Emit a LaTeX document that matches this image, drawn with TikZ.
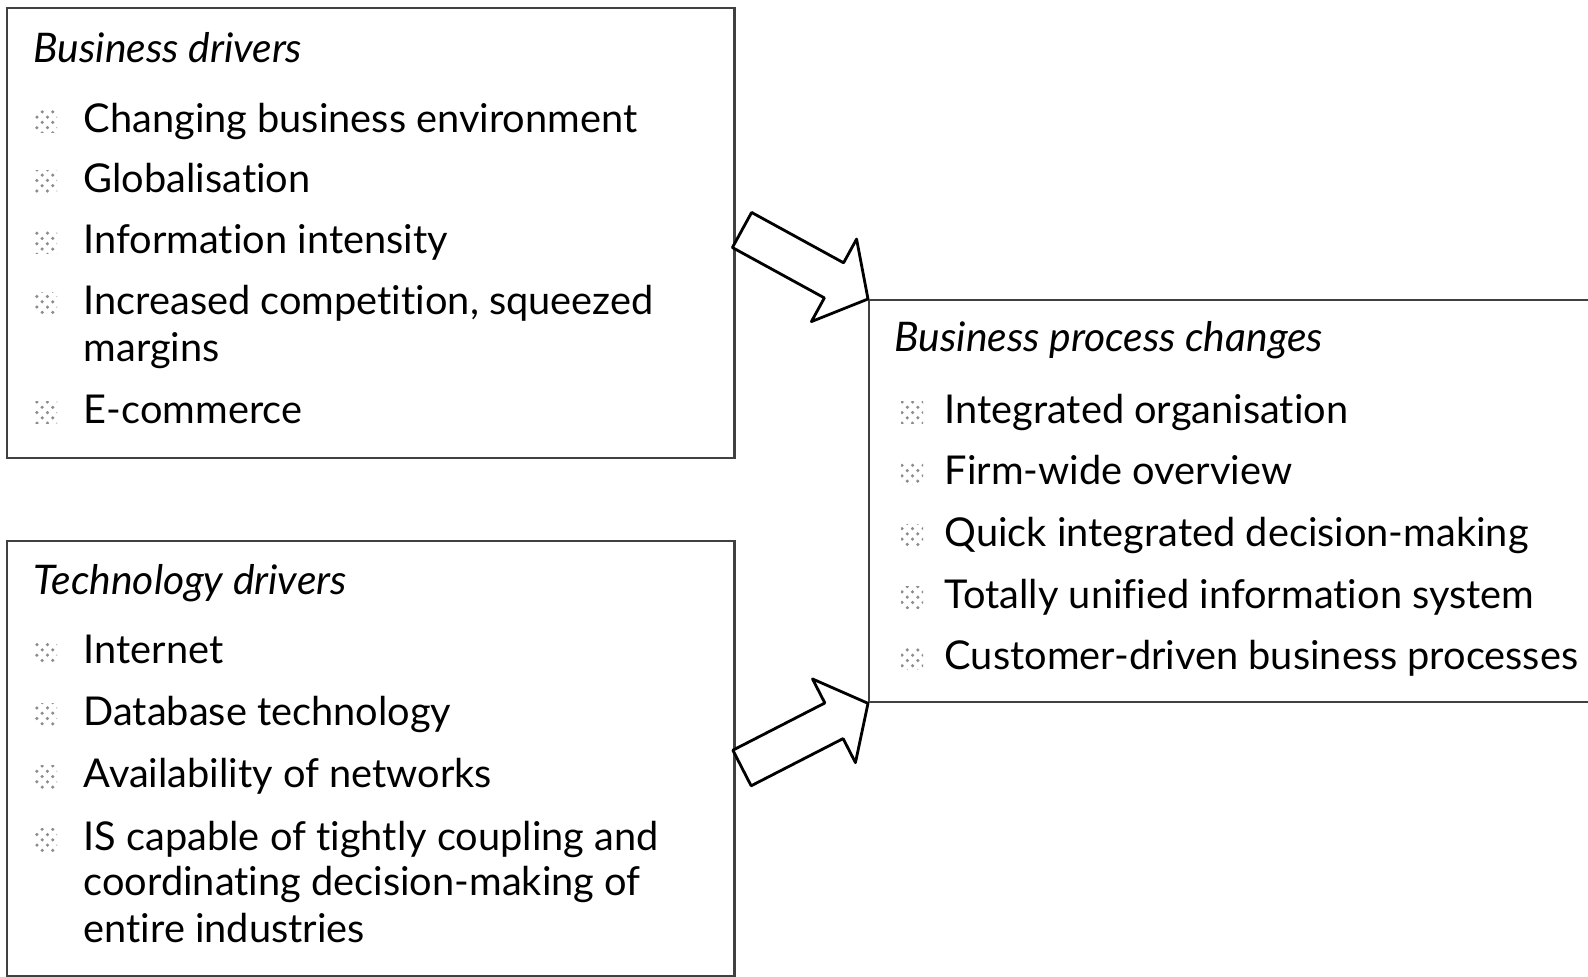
\documentclass[tikz,border=0pt]{standalone}
\usepackage{fontspec}
\setmainfont[Ligatures=NoCommon]{Lato}
\usetikzlibrary{calc,patterns}

\begin{document}
\begin{tikzpicture}[x=0.01cm,y=-0.01cm,
  box/.style={draw=black!75,line width=0.6pt,anchor=north west,inner sep=0pt},
  head/.style={anchor=base west,inner sep=0pt,font=\itshape\fontsize{11.6}{14}\selectfont},
  item/.style={anchor=base west,inner sep=0pt,font=\fontsize{11.3}{14}\selectfont},
  bullet/.style={pattern=crosshatch dots,pattern color=black!45,minimum size=0.22cm,inner sep=0pt},
  blockarrow/.style={draw=black,line width=0.8pt,fill=white,line join=round}]

  \useasboundingbox (0,0) rectangle (1588,977);

  % the three boxes
  \node[box,minimum width=7.27cm,minimum height=4.50cm] (biz) at (6,7) {};
  \node[box,minimum width=7.27cm,minimum height=4.35cm] (tech) at (6,540) {};
  \node[box,minimum width=7.30cm,minimum height=4.02cm] (chg) at (868,299) {};

  % business drivers
  \node[head] (bizhead) at (33,63) {Business drivers};
  \foreach \y/\txt [count=\i] in {133/Changing business environment,193/Globalisation,
      254/Information intensity,315/{Increased competition, squeezed},424/E-commerce} {
    \node[bullet] (bizb\i) at (46,\y-11) {};
    \node[item] (bizi\i) at (83,\y) {\txt};
  }
  \node[item] (bizi4b) at (83,362) {margins};

  % technology drivers
  \node[head] (techhead) at (33,595) {Technology drivers};
  \foreach \y/\txt [count=\i] in {664/Internet,726/Database technology,
      788/Availability of networks,851/IS capable of tightly coupling and} {
    \node[bullet] (techb\i) at (46,\y-11) {};
    \node[item] (techi\i) at (83,\y) {\txt};
  }
  \node[item] (techi4b) at (83,896) {coordinating decision-making of};
  \node[item] (techi4c) at (83,943) {entire industries};

  % business process changes
  \node[head] (chghead) at (894,352) {Business process changes};
  \foreach \y/\txt [count=\i] in {424/Integrated organisation,485/Firm-wide overview,
      547/Quick integrated decision-making,609/Totally unified information system,
      670/Customer-driven business processes} {
    \node[bullet] (chgb\i) at (912,\y-11) {};
    \node[item] (chgi\i) at (944,\y) {\txt};
  }

  % block arrows
  \coordinate (t1) at (742,230);
  \coordinate (t2) at (742,768);
  \coordinate (s1) at ($(t1)!0.73!(chg.north west)$);
  \coordinate (s2) at ($(t2)!0.73!(chg.south west)$);
  \draw[blockarrow] ($(t1)!0.2cm!90:(chg.north west)$) -- ($(s1)!0.2cm!90:(chg.north west)$)
    -- ($(s1)!0.47cm!90:(chg.north west)$) -- (chg.north west)
    -- ($(s1)!0.47cm!-90:(chg.north west)$) -- ($(s1)!0.2cm!-90:(chg.north west)$)
    -- ($(t1)!0.2cm!-90:(chg.north west)$) -- cycle;
  \draw[blockarrow] ($(t2)!0.2cm!90:(chg.south west)$) -- ($(s2)!0.2cm!90:(chg.south west)$)
    -- ($(s2)!0.47cm!90:(chg.south west)$) -- (chg.south west)
    -- ($(s2)!0.47cm!-90:(chg.south west)$) -- ($(s2)!0.2cm!-90:(chg.south west)$)
    -- ($(t2)!0.2cm!-90:(chg.south west)$) -- cycle;
\end{tikzpicture}
\end{document}
